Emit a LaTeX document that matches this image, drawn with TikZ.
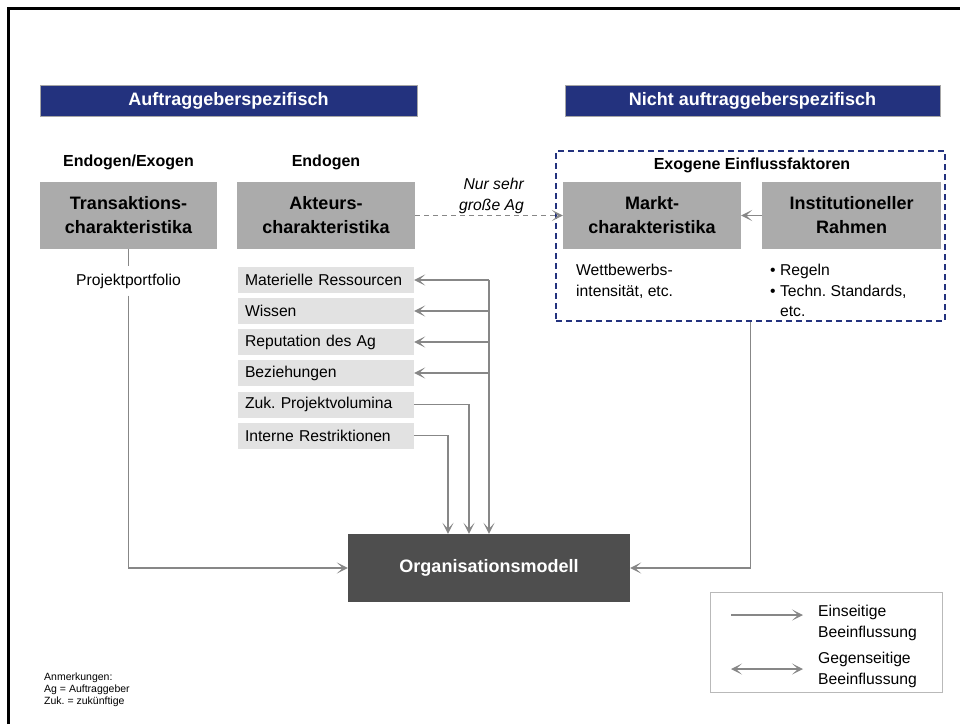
\documentclass[tikz,border=0pt]{standalone}
\usepackage{fontspec}
\setmainfont{Liberation Sans}
\usetikzlibrary{arrows.meta}

\definecolor{navy}{RGB}{35,50,126}
\definecolor{boxgray}{RGB}{171,171,171}
\definecolor{itemgray}{RGB}{226,226,226}
\definecolor{darkbox}{RGB}{78,78,78}
\definecolor{linegray}{RGB}{135,135,135}

\newcommand\setfs[2]{\fontsize{#1}{#2}\selectfont}
\frenchspacing

\begin{document}
\begin{tikzpicture}[x=1pt,y=-1pt,
  >={Stealth[length=11pt,width=11pt,inset=6pt]},
  header/.style={fill=navy, draw=gray!70, line width=0.8pt, text=white,
    font=\bfseries\setfs{18}{22}, minimum height=31pt, inner sep=0pt},
  catbox/.style={fill=boxgray, minimum width=178pt, minimum height=67pt,
    inner sep=0pt, align=center, font=\bfseries\setfs{18}{24}},
  cat/.style={font=\bfseries\setfs{16}{20}, inner sep=0pt},
  plain/.style={font=\setfs{15.7}{20.5}, inner sep=0pt},
  item/.style={fill=itemgray, minimum width=176pt, minimum height=26pt,
    text width=162pt, inner xsep=7pt, inner ysep=0pt, align=left,
    font=\setfs{15.7}{20.5}},
  conn/.style={draw=linegray, line width=1.5pt, ->},
]
\useasboundingbox (0,0) rectangle (960,724);

% page frame (top and left edge)
\draw[line width=3pt] (8,724) -- (8,8) -- (960,8);

% column headers
\node[header, minimum width=377pt] (h1) at (228.5,100.5) {Auftraggeberspezifisch};
\node[header, minimum width=375pt] (h2) at (752.5,100.5) {Nicht auftraggeberspezifisch};

% category labels
\node[cat] (c1) at (128.5,162) {Endogen/Exogen};
\node[cat] (c2) at (326,162) {Endogen};

% exogenous factors frame
\node[draw=navy, line width=1.6pt, dash pattern=on 6pt off 4pt,
      minimum width=389pt, minimum height=170pt, inner sep=0pt] (exo) at (750.5,236) {};
\node[cat] (c3) at (752,165) {Exogene Einflussfaktoren};

% main characteristic boxes
\node[catbox, minimum width=177pt] (trans) at (128.5,215.5) {Transaktions-\\charakteristika};
\node[catbox] (akt) at (326,215.5) {Akteurs-\\charakteristika};
\node[catbox] (markt) at (652,215.5) {Markt-\\charakteristika};
\node[catbox, minimum width=179pt] (inst) at (851.5,215.5) {Institutioneller\\Rahmen};

% actor to market (large clients only)
\draw[conn, line width=1.2pt, dash pattern=on 5pt off 4pt] (akt) -- (markt);
\node[font=\itshape\setfs{15.7}{20.5}, align=right, anchor=east, inner sep=0pt]
  (nur) at (524,196) {Nur sehr\\große Ag};

\draw[conn] (inst) -- (markt);

% descriptions below the exogenous boxes
\node[plain, anchor=north west, align=left] (wett) at (576,264)
  {Wettbewerbs-\\intensität, etc.};
\node[plain, anchor=north west, align=left] (rules) at (770,264)
  {\textbullet\ Regeln\\\textbullet\ Techn. Standards,\\\phantom{\textbullet\ }etc.};

% transaction path
\node[plain, inner ysep=7pt] (pp) at (128.5,281) {Projektportfolio};

% actor attributes
\node[item] (i1) at (326,280) {Materielle Ressourcen};
\node[item] (i2) at (326,311) {Wissen};
\node[item] (i3) at (326,342) {Reputation des Ag};
\node[item] (i4) at (326,373) {Beziehungen};
\node[item] (i5) at (326,404.5) {Zuk. Projektvolumina};
\node[item] (i6) at (326,435.5) {Interne Restriktionen};

% organisation model
\node[fill=darkbox, minimum width=282pt, minimum height=68pt, inner sep=0pt,
      text=white, font=\bfseries\setfs{18}{22}] (orga) at (489,568) {Organisationsmodell};

% connectors
\draw[conn, -] (trans.south) -- (pp.north);
\draw[conn] (pp.south) |- (orga.west);

\coordinate (bus) at (489,280);
\draw[conn] (i1.east -| bus) -- (orga.north -| bus);
\draw[conn] (i1.east -| bus) -- (i1.east);
\draw[conn] (i2.east -| bus) -- (i2.east);
\draw[conn] (i3.east -| bus) -- (i3.east);
\draw[conn] (i4.east -| bus) -- (i4.east);
\draw[conn] (i5.east) -| ([xshift=-20pt]orga.north);
\draw[conn] (i6.east) -| ([xshift=-41pt]orga.north);

\draw[conn] (exo.south) |- (orga.east);

% legend
\node[draw=gray!55, line width=1pt, minimum width=232pt, minimum height=100pt,
      inner sep=0pt] (leg) at (826,642) {};
\coordinate (la) at (731,615);
\coordinate (lb) at (803,615);
\draw[conn] (la) -- (lb);
\coordinate (lc) at (731,669);
\coordinate (ld) at (803,669);
\draw[conn, <->] (lc) -- (ld);
\node[plain, anchor=north west, align=left] (lt1) at (818,605) {Einseitige\\Beeinflussung};
\node[plain, anchor=north west, align=left] (lt2) at (818,652) {Gegenseitige\\Beeinflussung};

% notes
\node[font=\setfs{10.5}{12}, anchor=north west, align=left, inner sep=0pt]
  (notes) at (44,673) {Anmerkungen:\\Ag = Auftraggeber\\Zuk. = zukünftige};
\end{tikzpicture}
\end{document}
